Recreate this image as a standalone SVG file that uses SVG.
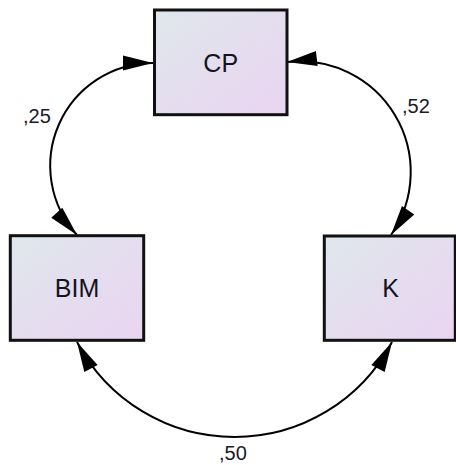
<svg xmlns="http://www.w3.org/2000/svg" width="456" height="465" viewBox="0 0 456 465">
  <defs>
    <linearGradient id="boxFill" x1="0" y1="0" x2="1" y2="1">
      <stop offset="0" stop-color="#dfe7ec"/>
      <stop offset="1" stop-color="#ead4f1"/>
    </linearGradient>
    <!-- filled arrowhead, tip at the path end point -->
    <marker id="arrow" markerUnits="userSpaceOnUse" markerWidth="32" markerHeight="16"
            viewBox="-31 -8 32 16" refX="0" refY="0" orient="auto-start-reverse">
      <path d="M0,0 L-30,-7.5 L-30,7.5 Z" fill="#000"/>
    </marker>
    <style>
      .box { fill: url(#boxFill); stroke: #111; stroke-width: 3; }
      .name { font-family: "Liberation Sans", Arial, sans-serif; font-size: 25px; fill: #14141e; text-anchor: middle; }
      .cov { fill: none; stroke: #000; stroke-width: 2; marker-start: url(#arrow); marker-end: url(#arrow); }
      .est { font-family: "Liberation Sans", Arial, sans-serif; font-size: 20px; fill: #1a1a2a; }
    </style>
  </defs>

  <!-- covariance arcs -->
  <g id="connectors">
    <path class="cov" d="M153 63 A102.8 102.8 0 0 0 77 235"/>
    <path class="cov" d="M287 62 A110.7 110.7 0 0 1 391 235"/>
    <path class="cov" d="M77 342 A178 178 0 0 0 392 342"/>
    <text class="est" x="23" y="123.3">,25</text>
    <text class="est" x="402" y="113">,52</text>
    <text class="est" x="219" y="460">,50</text>
  </g>

  <g id="node-CP">
    <rect class="box" x="154.5" y="10" width="132.5" height="104.7"/>
    <text class="name" x="220.7" y="71.6">CP</text>
  </g>

  <g id="node-BIM">
    <rect class="box" x="10.3" y="235.7" width="133.4" height="104.6"/>
    <text class="name" x="77" y="297.3">BIM</text>
  </g>

  <g id="node-K">
    <rect class="box" x="324.3" y="236" width="131" height="104.3"/>
    <text class="name" x="390.5" y="297.3">K</text>
  </g>
</svg>
